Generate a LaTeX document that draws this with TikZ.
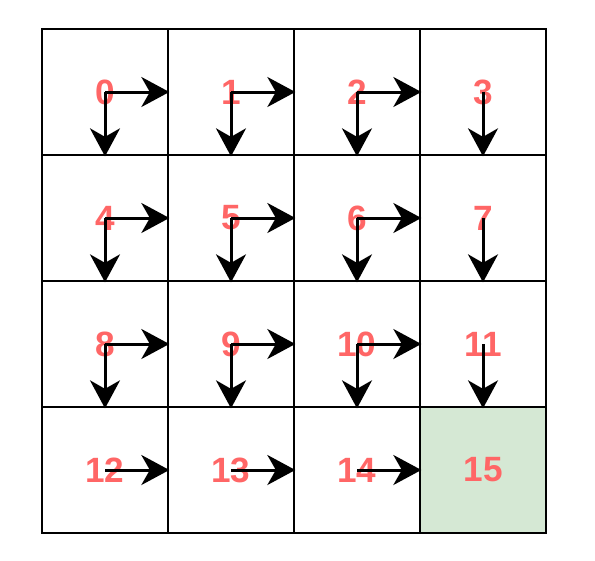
\documentclass[tikz,border=0pt]{standalone}
\usepackage{fontspec}
\newfontfamily\cellfont{Liberation Sans}
\usetikzlibrary{arrows.meta}
\definecolor{Salmon}{HTML}{FF6666}
\definecolor{Goal}{HTML}{D5E8D4}

\begin{document}
\begin{tikzpicture}[x=0.02cm,y=-0.02cm,
  cell/.style={rectangle,draw=black,line width=0.054cm,minimum size=2.52cm,inner sep=0pt,text=Salmon,font=\cellfont\bfseries\fontsize{20}{21}\selectfont},
  goal/.style={cell,fill=Goal},
  move/.style={draw=black,line width=0.06cm,-{Stealth[length=0.56cm,width=0.6cm,inset=0.17cm]}}
]
\useasboundingbox (0,0) rectangle (595,561);
\node[cell] (c0) at (105,92) {0};
\node[cell] (c1) at (231,92) {1};
\node[cell] (c2) at (357,92) {2};
\node[cell] (c3) at (483,92) {3};
\node[cell] (c4) at (105,218) {4};
\node[cell] (c5) at (231,218) {5};
\node[cell] (c6) at (357,218) {6};
\node[cell] (c7) at (483,218) {7};
\node[cell] (c8) at (105,344) {8};
\node[cell] (c9) at (231,344) {9};
\node[cell] (c10) at (357,344) {10};
\node[cell] (c11) at (483,344) {11};
\node[cell] (c12) at (105,470) {12};
\node[cell] (c13) at (231,470) {13};
\node[cell] (c14) at (357,470) {14};
\node[goal] (c15) at (483,470) {15};
% moves right
\draw[move] (c0.center) -- (c0.east);
\draw[move] (c1.center) -- (c1.east);
\draw[move] (c2.center) -- (c2.east);
\draw[move] (c4.center) -- (c4.east);
\draw[move] (c5.center) -- (c5.east);
\draw[move] (c6.center) -- (c6.east);
\draw[move] (c8.center) -- (c8.east);
\draw[move] (c9.center) -- (c9.east);
\draw[move] (c10.center) -- (c10.east);
\draw[move] (c12.center) -- (c12.east);
\draw[move] (c13.center) -- (c13.east);
\draw[move] (c14.center) -- (c14.east);
% moves down
\draw[move] (c0.center) -- (c0.south);
\draw[move] (c1.center) -- (c1.south);
\draw[move] (c2.center) -- (c2.south);
\draw[move] (c3.center) -- (c3.south);
\draw[move] (c4.center) -- (c4.south);
\draw[move] (c5.center) -- (c5.south);
\draw[move] (c6.center) -- (c6.south);
\draw[move] (c7.center) -- (c7.south);
\draw[move] (c8.center) -- (c8.south);
\draw[move] (c9.center) -- (c9.south);
\draw[move] (c10.center) -- (c10.south);
\draw[move] (c11.center) -- (c11.south);
\end{tikzpicture}
\end{document}
